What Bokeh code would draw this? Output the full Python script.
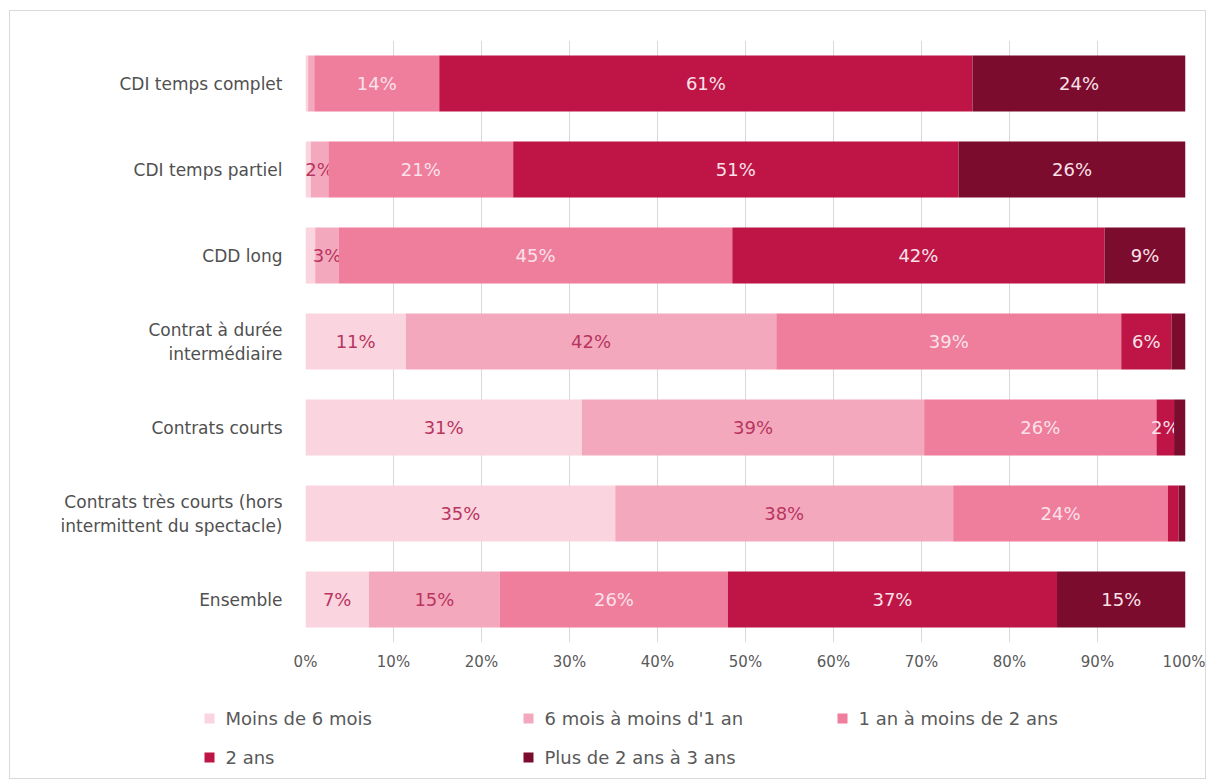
from bokeh.plotting import figure
from bokeh.layouts import column
from bokeh.models import ColumnDataSource, FactorRange, FixedTicker
from bokeh.core.properties import value
from bokeh.embed import file_html
from bokeh.resources import INLINE

categories = [
    "CDI temps complet",
    "CDI temps partiel",
    "CDD long",
    "Contrat à durée\nintermédiaire",
    "Contrats courts",
    "Contrats très courts (hors\nintermittent du spectacle)",
    "Ensemble",
]
series_names = [
    "Moins de 6 mois",
    "6 mois à moins d'1 an",
    "1 an à moins de 2 ans",
    "2 ans",
    "Plus de 2 ans à 3 ans",
]
moins_6_mois = [0.3, 0.6, 1.1, 11.4, 31.4, 35.2, 7.2]
six_mois_1_an = [0.7, 2.0, 2.7, 42.1, 38.9, 38.4, 14.9]
un_an_2_ans = [14.2, 21.0, 44.7, 39.2, 26.4, 24.4, 25.9]
deux_ans = [60.6, 50.6, 42.3, 5.7, 2.0, 1.2, 37.4]
plus_2_3_ans = [24.2, 25.8, 9.2, 1.6, 1.3, 0.8, 14.6]
x_ticks = [0, 10, 20, 30, 40, 50, 60, 70, 80, 90, 100]

colors = ["#fad4df", "#f4a8bd", "#ef7d9c", "#be1546", "#7b0c2e"]
label_colors = ["#b83560", "#b83560", "#fbe2ea", "#fbe2ea", "#fbe2ea"]
FONT = "DejaVu Sans"

series = [moins_6_mois, six_mois_1_an, un_an_2_ans, deux_ans, plus_2_3_ans]

W = 1195
p = figure(
    width=W, height=679,
    y_range=FactorRange(factors=list(reversed(categories))),
    x_range=(0, 100),
    output_backend="svg", toolbar_location=None,
    min_border_left=295, min_border_right=20, min_border_top=29, min_border_bottom=48,
)
p.outline_line_color = None
p.ygrid.grid_line_color = None
p.xgrid.grid_line_color = "#d9d9d9"
p.xaxis.ticker = FixedTicker(ticks=x_ticks)
p.xaxis.major_label_overrides = {t: f"{t}%" for t in x_ticks}
p.xaxis.axis_line_color = None
p.xaxis.major_tick_line_color = None
p.xaxis.minor_tick_line_color = None
p.xaxis.major_tick_out = 0
p.xaxis.major_tick_in = 0
p.xaxis.major_label_text_font = FONT
p.xaxis.major_label_text_font_size = "15px"
p.xaxis.major_label_text_color = "#595959"
p.xaxis.major_label_standoff = 10
p.yaxis.axis_line_color = None
p.yaxis.major_tick_line_color = None
p.yaxis.minor_tick_line_color = None
p.yaxis.major_tick_out = 0
p.yaxis.major_tick_in = 0
p.yaxis.major_label_text_font = FONT
p.yaxis.major_label_text_font_size = "17px"
p.yaxis.major_label_text_color = "#505050"
p.yaxis.major_label_standoff = 23

left = [0.0] * len(categories)
for i, (name, vals) in enumerate(zip(series_names, series)):
    right = [l + v for l, v in zip(left, vals)]
    mid = [(l + r) / 2 for l, r in zip(left, right)]
    labels = [f"{round(v)}%" if v >= 1.8 else "" for v in vals]
    src = ColumnDataSource(dict(cat=categories, left=left, right=right, mid=mid, lab=labels))
    p.hbar(y="cat", left="left", right="right", height=0.65, source=src,
           fill_color=colors[i], line_color=None)
    p.text(x="mid", y="cat", text="lab", source=src, text_align="center",
           text_baseline="middle", text_font=value(FONT), text_font_size="18px",
           text_color=label_colors[i])
    left = right

# legend panel drawn in a pixel-scaled helper figure
LH = 88
lp = figure(
    width=W, height=LH, x_range=(0, W), y_range=(0, LH),
    output_backend="svg", toolbar_location=None,
    min_border_left=0, min_border_right=0, min_border_top=0, min_border_bottom=0,
)
lp.axis.visible = False
lp.grid.visible = False
lp.outline_line_color = None
for fig in (p, lp):
    try:
        fig.frame_align = False
    except Exception:
        pass

col_x = [209, 528, 842]
row_y = [60, 21]
lx, ly = [], []
for k in range(len(series_names)):
    lx.append(col_x[k % 3] - 10)
    ly.append(row_y[k // 3])
lsrc = ColumnDataSource(dict(x=lx, y=ly, tx=[v + 16 for v in lx], name=series_names, color=colors))
lp.scatter(x="x", y="y", source=lsrc, marker="square", size=10, fill_color="color", line_color=None)
lp.text(x="tx", y="y", text="name", source=lsrc, text_align="left", text_baseline="middle",
        text_font=value(FONT), text_font_size="18px", text_color="#595959")

layout = column(p, lp, spacing=0)
layout.styles = {"border": "1px solid #d9d9d9", "margin-left": "9px", "margin-top": "10px"}

open("out.html", "w").write(file_html(layout, INLINE))
